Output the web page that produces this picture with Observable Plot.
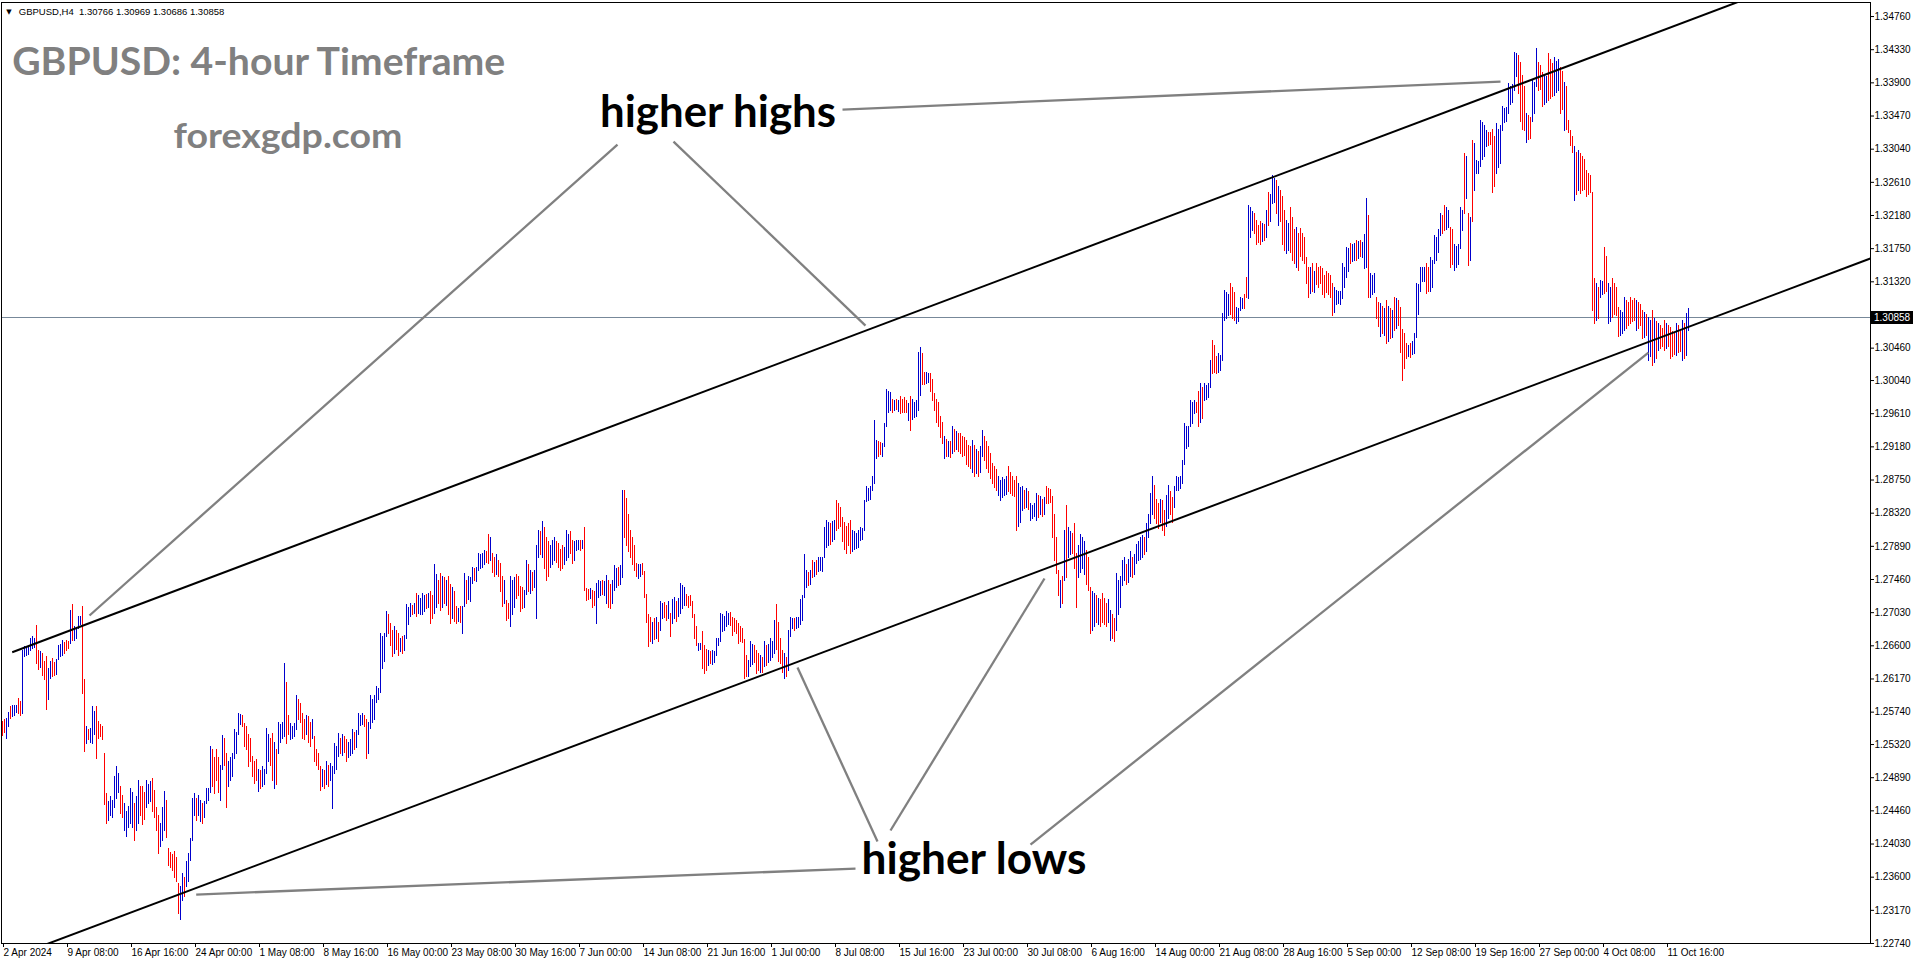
<!DOCTYPE html>
<html><head><meta charset="utf-8">
<script src="https://cdn.jsdelivr.net/npm/d3@7"></script>
<script src="https://cdn.jsdelivr.net/npm/@observablehq/plot@0.6"></script>
<style>
html,body{margin:0;padding:0;background:#fff;overflow:hidden;}
#chart svg{display:block;max-width:none !important;}
</style></head><body><div id="chart"></div>
<script>
// ---- GBPUSD H4 bars (bar index 0 = 2 Apr 2024 00:00) ----
const lows = [
1.2544,1.2548,1.2540,1.2555,1.2566,1.2568,1.2570,1.2573,1.2572,1.2570,
1.2572,1.2646,1.2647,1.2649,1.2654,1.2656,1.2658,1.2637,1.2629,1.2632,
1.2622,1.2616,1.2577,1.2590,1.2618,1.2620,1.2621,1.2623,1.2642,1.2646,
1.2648,1.2650,1.2654,1.2656,1.2663,1.2667,1.2667,1.2670,1.2683,1.2688,
1.2598,1.2523,1.2533,1.2538,1.2535,1.2533,1.2545,1.2514,1.2540,1.2542,
1.2538,1.2454,1.2430,1.2434,1.2440,1.2438,1.2451,1.2462,1.2470,1.2442,
1.2438,1.2420,1.2413,1.2425,1.2430,1.2425,1.2408,1.2421,1.2430,1.2440,
1.2428,1.2435,1.2451,1.2455,1.2458,1.2445,1.2438,1.2420,1.2391,1.2400,
1.2408,1.2420,1.2412,1.2375,1.2372,1.2369,1.2360,1.2354,1.2313,1.2305,
1.2330,1.2335,1.2348,1.2355,1.2382,1.2408,1.2440,1.2434,1.2440,1.2432,
1.2430,1.2438,1.2456,1.2460,1.2470,1.2478,1.2469,1.2485,1.2470,1.2460,
1.2499,1.2505,1.2451,1.2477,1.2485,1.2490,1.2514,1.2520,1.2545,1.2558,
1.2555,1.2530,1.2525,1.2503,1.2510,1.2490,1.2482,1.2486,1.2471,1.2475,
1.2478,1.2480,1.2495,1.2510,1.2505,1.2485,1.2475,1.2480,1.2520,1.2535,
1.2540,1.2542,1.2533,1.2545,1.2538,1.2540,1.2542,1.2552,1.2565,1.2560,
1.2540,1.2538,1.2545,1.2535,1.2529,1.2540,1.2510,1.2505,1.2499,1.2473,
1.2478,1.2475,1.2480,1.2477,1.2485,1.2449,1.2495,1.2500,1.2516,1.2520,
1.2518,1.2522,1.2510,1.2515,1.2518,1.2521,1.2525,1.2528,1.2545,1.2557,
1.2558,1.2556,1.2514,1.2520,1.2553,1.2560,1.2565,1.2587,1.2590,1.2600,
1.2630,1.2640,1.2672,1.2676,1.2660,1.2646,1.2650,1.2655,1.2648,1.2652,
1.2650,1.2654,1.2670,1.2688,1.2698,1.2700,1.2702,1.2698,1.2702,1.2700,
1.2700,1.2705,1.2708,1.2710,1.2689,1.2695,1.2702,1.2710,1.2715,1.2706,
1.2710,1.2715,1.2712,1.2700,1.2689,1.2695,1.2692,1.2689,1.2692,1.2690,
1.2676,1.2711,1.2715,1.2720,1.2718,1.2741,1.2745,1.2743,1.2758,1.2760,
1.2762,1.2765,1.2768,1.2767,1.2770,1.2755,1.2750,1.2752,1.2750,1.2730,
1.2711,1.2715,1.2693,1.2695,1.2685,1.2700,1.2710,1.2721,1.2725,1.2704,
1.2708,1.2710,1.2726,1.2730,1.2728,1.2732,1.2735,1.2696,1.2775,1.2778,
1.2775,1.2760,1.2745,1.2750,1.2762,1.2765,1.2770,1.2768,1.2762,1.2758,
1.2760,1.2765,1.2771,1.2775,1.2780,1.2767,1.2770,1.2784,1.2785,1.2784,
1.2786,1.2732,1.2719,1.2720,1.2722,1.2710,1.2712,1.2689,1.2723,1.2725,
1.2727,1.2725,1.2715,1.2710,1.2708,1.2715,1.2732,1.2735,1.2738,1.2740,
1.2749,1.2800,1.2790,1.2782,1.2775,1.2765,1.2758,1.2750,1.2747,1.2750,
1.2752,1.2723,1.2690,1.2659,1.2665,1.2663,1.2668,1.2670,1.2665,1.2680,
1.2695,1.2697,1.2693,1.2695,1.2672,1.2689,1.2695,1.2692,1.2698,1.2702,
1.2708,1.2712,1.2712,1.2710,1.2712,1.2697,1.2670,1.2661,1.2654,1.2655,
1.2630,1.2624,1.2628,1.2635,1.2637,1.2636,1.2638,1.2648,1.2660,1.2665,
1.2678,1.2680,1.2685,1.2688,1.2687,1.2674,1.2678,1.2676,1.2663,1.2666,
1.2664,1.2618,1.2620,1.2620,1.2633,1.2636,1.2638,1.2624,1.2628,1.2626,
1.2625,1.2633,1.2635,1.2638,1.2641,1.2645,1.2650,1.2655,1.2640,1.2637,
1.2625,1.2618,1.2620,1.2628,1.2672,1.2682,1.2680,1.2683,1.2684,1.2688,
1.2693,1.2723,1.2736,1.2738,1.2740,1.2749,1.2750,1.2752,1.2756,1.2758,
1.2757,1.2775,1.2788,1.2790,1.2792,1.2795,1.2798,1.2810,1.2812,1.2815,
1.2795,1.2785,1.2780,1.2790,1.2780,1.2782,1.2785,1.2786,1.2788,1.2797,
1.2798,1.2810,1.2847,1.2848,1.2850,1.2862,1.2870,1.2903,1.2905,1.2908,
1.2906,1.2918,1.2945,1.2963,1.2965,1.2963,1.2965,1.2966,1.2964,1.2961,
1.2962,1.2963,1.2962,1.2952,1.2939,1.2954,1.2956,1.2958,1.2965,1.2985,
1.2999,1.2999,1.3000,1.3001,1.2990,1.2978,1.2965,1.2950,1.2944,1.2930,
1.2922,1.2903,1.2905,1.2906,1.2904,1.2909,1.2912,1.2915,1.2912,1.2910,
1.2905,1.2907,1.2895,1.2892,1.2890,1.2885,1.2879,1.2883,1.2880,1.2885,
1.2905,1.2900,1.2890,1.2885,1.2877,1.2870,1.2865,1.2862,1.2855,1.2849,
1.2852,1.2855,1.2856,1.2860,1.2858,1.2855,1.2853,1.2810,1.2815,1.2820,
1.2836,1.2838,1.2840,1.2837,1.2823,1.2825,1.2828,1.2823,1.2826,1.2830,
1.2828,1.2830,1.2844,1.2845,1.2846,1.2800,1.2770,1.2754,1.2725,1.2710,
1.2715,1.2745,1.2749,1.2775,1.2778,1.2780,1.2760,1.2710,1.2749,1.2755,
1.2760,1.2752,1.2740,1.2732,1.2676,1.2680,1.2685,1.2690,1.2688,1.2685,
1.2690,1.2688,1.2685,1.2690,1.2667,1.2670,1.2665,1.2680,1.2700,1.2710,
1.2738,1.2745,1.2740,1.2742,1.2750,1.2748,1.2752,1.2767,1.2770,1.2772,
1.2775,1.2778,1.2782,1.2800,1.2818,1.2830,1.2825,1.2818,1.2812,1.2820,
1.2810,1.2803,1.2815,1.2825,1.2830,1.2820,1.2840,1.2861,1.2862,1.2864,
1.2870,1.2895,1.2916,1.2918,1.2944,1.2948,1.2961,1.2962,1.2944,1.2950,
1.2955,1.2978,1.2980,1.2982,1.2995,1.3013,1.3015,1.3013,1.3015,1.3017,
1.3030,1.3082,1.3085,1.3088,1.3090,1.3085,1.3082,1.3078,1.3080,1.3095,
1.3097,1.3098,1.3112,1.3110,1.3190,1.3199,1.3195,1.3181,1.3183,1.3181,
1.3184,1.3186,1.3190,1.3205,1.3210,1.3233,1.3235,1.3220,1.3205,1.3210,
1.3180,1.3173,1.3169,1.3172,1.3170,1.3160,1.3156,1.3150,1.3147,1.3165,
1.3160,1.3156,1.3130,1.3112,1.3117,1.3120,1.3118,1.3128,1.3125,1.3130,
1.3115,1.3112,1.3118,1.3115,1.3112,1.3088,1.3092,1.3102,1.3104,1.3103,
1.3110,1.3125,1.3138,1.3145,1.3156,1.3158,1.3160,1.3160,1.3162,1.3165,
1.3163,1.3149,1.3151,1.3112,1.3112,1.3115,1.3118,1.3085,1.3074,1.3061,
1.3065,1.3062,1.3052,1.3055,1.3058,1.3060,1.3069,1.3072,1.3075,1.3040,
1.3004,1.3020,1.3032,1.3035,1.3034,1.3038,1.3039,1.3060,1.3090,1.3120,
1.3132,1.3133,1.3117,1.3120,1.3119,1.3125,1.3156,1.3160,1.3170,1.3192,
1.3195,1.3199,1.3200,1.3202,1.3151,1.3155,1.3147,1.3150,1.3155,1.3175,
1.3198,1.3220,1.3240,1.3153,1.3160,1.3210,1.3250,1.3272,1.3273,1.3281,
1.3290,1.3295,1.3307,1.3309,1.3310,1.3248,1.3255,1.3272,1.3280,1.3285,
1.3328,1.3338,1.3340,1.3350,1.3362,1.3365,1.3380,1.3398,1.3376,1.3340,
1.3330,1.3328,1.3313,1.3316,1.3318,1.3340,1.3350,1.3385,1.3380,1.3382,
1.3359,1.3362,1.3365,1.3367,1.3370,1.3372,1.3374,1.3378,1.3380,1.3350,
1.3355,1.3328,1.3330,1.3326,1.3309,1.3300,1.3238,1.3245,1.3250,1.3246,
1.3250,1.3252,1.3242,1.3245,1.3248,1.3095,1.3078,1.3082,1.3085,1.3112,
1.3115,1.3117,1.3120,1.3078,1.3080,1.3086,1.3090,1.3088,1.3061,1.3063,
1.3065,1.3069,1.3072,1.3075,1.3078,1.3080,1.3082,1.3069,1.3072,1.3075,
1.3058,1.3060,1.3062,1.3030,1.3035,1.3024,1.3028,1.3032,1.3043,1.3045,
1.3048,1.3043,1.3046,1.3048,1.3032,1.3035,1.3038,1.3037,1.3040,1.3042,
1.3030,1.3033,1.3037,1.30686
];
const highs = [
1.2562,1.2565,1.2566,1.2574,1.2581,1.2583,1.2582,1.2583,1.2592,1.2588,
1.2654,1.2659,1.2658,1.2660,1.2670,1.2672,1.2670,1.2687,1.2654,1.2652,
1.2650,1.2640,1.2646,1.2630,1.2640,1.2644,1.2638,1.2642,1.2660,1.2662,
1.2667,1.2664,1.2667,1.2665,1.2706,1.2713,1.2685,1.2684,1.2698,1.2698,
1.2711,1.2616,1.2555,1.2552,1.2553,1.2581,1.2575,1.2581,1.2562,1.2558,
1.2555,1.2521,1.2469,1.2458,1.2464,1.2460,1.2490,1.2503,1.2495,1.2477,
1.2466,1.2456,1.2445,1.2452,1.2475,1.2470,1.2456,1.2465,1.2486,1.2478,
1.2477,1.2470,1.2486,1.2480,1.2484,1.2488,1.2472,1.2451,1.2440,1.2430,
1.2450,1.2471,1.2460,1.2397,1.2392,1.2390,1.2393,1.2385,1.2352,1.2348,
1.2365,1.2360,1.2380,1.2391,1.2410,1.2462,1.2469,1.2462,1.2466,1.2460,
1.2455,1.2458,1.2475,1.2475,1.2529,1.2526,1.2515,1.2525,1.2515,1.2505,
1.2544,1.2540,1.2521,1.2510,1.2515,1.2521,1.2551,1.2548,1.2572,1.2571,
1.2570,1.2559,1.2556,1.2545,1.2540,1.2516,1.2510,1.2512,1.2500,1.2498,
1.2503,1.2500,1.2553,1.2545,1.2540,1.2546,1.2535,1.2525,1.2561,1.2558,
1.2561,1.2637,1.2613,1.2570,1.2559,1.2556,1.2559,1.2596,1.2590,1.2585,
1.2572,1.2565,1.2570,1.2568,1.2560,1.2565,1.2542,1.2525,1.2520,1.2503,
1.2500,1.2498,1.2510,1.2505,1.2508,1.2503,1.2533,1.2530,1.2546,1.2540,
1.2545,1.2542,1.2538,1.2535,1.2538,1.2551,1.2548,1.2550,1.2572,1.2570,
1.2572,1.2570,1.2564,1.2560,1.2596,1.2590,1.2595,1.2607,1.2605,1.2676,
1.2672,1.2676,1.2704,1.2700,1.2689,1.2680,1.2685,1.2680,1.2676,1.2670,
1.2672,1.2674,1.2713,1.2710,1.2715,1.2712,1.2715,1.2728,1.2725,1.2722,
1.2728,1.2725,1.2726,1.2728,1.2730,1.2725,1.2765,1.2752,1.2745,1.2754,
1.2750,1.2748,1.2745,1.2750,1.2740,1.2735,1.2730,1.2711,1.2708,1.2711,
1.2711,1.2754,1.2745,1.2750,1.2748,1.2762,1.2760,1.2762,1.2780,1.2778,
1.2780,1.2784,1.2782,1.2805,1.2800,1.2780,1.2775,1.2778,1.2770,1.2767,
1.2750,1.2745,1.2719,1.2715,1.2750,1.2745,1.2748,1.2752,1.2750,1.2737,
1.2735,1.2732,1.2771,1.2765,1.2758,1.2755,1.2758,1.2790,1.2810,1.2808,
1.2821,1.2814,1.2800,1.2795,1.2790,1.2797,1.2800,1.2795,1.2793,1.2785,
1.2790,1.2788,1.2810,1.2805,1.2808,1.2797,1.2795,1.2797,1.2797,1.2796,
1.2797,1.2814,1.2734,1.2733,1.2734,1.2732,1.2730,1.2741,1.2745,1.2743,
1.2745,1.2744,1.2751,1.2745,1.2740,1.2745,1.2764,1.2760,1.2762,1.2764,
1.2862,1.2862,1.2851,1.2830,1.2810,1.2800,1.2790,1.2767,1.2765,1.2766,
1.2767,1.2756,1.2726,1.2700,1.2697,1.2690,1.2695,1.2697,1.2690,1.2717,
1.2715,1.2716,1.2712,1.2717,1.2702,1.2720,1.2723,1.2718,1.2722,1.2741,
1.2738,1.2735,1.2726,1.2724,1.2725,1.2717,1.2700,1.2685,1.2663,1.2663,
1.2678,1.2660,1.2655,1.2654,1.2652,1.2654,1.2652,1.2669,1.2669,1.2702,
1.2700,1.2698,1.2704,1.2702,1.2703,1.2697,1.2695,1.2693,1.2689,1.2685,
1.2683,1.2668,1.2648,1.2641,1.2665,1.2662,1.2660,1.2654,1.2650,1.2648,
1.2645,1.2665,1.2660,1.2662,1.2669,1.2666,1.2693,1.2713,1.2690,1.2670,
1.2654,1.2650,1.2645,1.2680,1.2697,1.2696,1.2695,1.2697,1.2697,1.2720,
1.2725,1.2779,1.2758,1.2755,1.2758,1.2771,1.2768,1.2770,1.2775,1.2774,
1.2775,1.2814,1.2823,1.2820,1.2818,1.2821,1.2823,1.2849,1.2845,1.2840,
1.2827,1.2820,1.2815,1.2818,1.2823,1.2810,1.2808,1.2806,1.2810,1.2814,
1.2812,1.2849,1.2866,1.2864,1.2866,1.2879,1.2952,1.2926,1.2925,1.2924,
1.2922,1.2948,1.2993,1.2990,1.2988,1.2980,1.2978,1.2980,1.2978,1.2983,
1.2980,1.2982,1.2978,1.2974,1.2983,1.2980,1.2976,1.2978,1.3040,1.3047,
1.3039,1.3015,1.3014,1.3013,1.3013,1.3005,1.2987,1.2980,1.2975,1.2957,
1.2950,1.2931,1.2928,1.2925,1.2925,1.2944,1.2940,1.2938,1.2935,1.2935,
1.2932,1.2930,1.2926,1.2920,1.2918,1.2926,1.2920,1.2915,1.2912,1.2918,
1.2939,1.2931,1.2925,1.2918,1.2910,1.2896,1.2892,1.2888,1.2879,1.2875,
1.2878,1.2876,1.2879,1.2892,1.2885,1.2880,1.2875,1.2879,1.2870,1.2865,
1.2866,1.2862,1.2864,1.2860,1.2844,1.2842,1.2844,1.2857,1.2855,1.2854,
1.2850,1.2852,1.2866,1.2864,1.2863,1.2853,1.2830,1.2800,1.2758,1.2745,
1.2750,1.2810,1.2842,1.2814,1.2808,1.2806,1.2818,1.2780,1.2790,1.2805,
1.2800,1.2795,1.2784,1.2775,1.2736,1.2730,1.2728,1.2725,1.2722,1.2720,
1.2728,1.2722,1.2715,1.2720,1.2706,1.2700,1.2695,1.2754,1.2745,1.2750,
1.2770,1.2775,1.2765,1.2772,1.2782,1.2775,1.2778,1.2792,1.2795,1.2800,
1.2803,1.2800,1.2818,1.2830,1.2858,1.2879,1.2868,1.2850,1.2845,1.2850,
1.2848,1.2835,1.2855,1.2868,1.2860,1.2852,1.2866,1.2879,1.2878,1.2879,
1.2900,1.2948,1.2944,1.2945,1.2978,1.2975,1.2978,1.2976,1.2990,1.3000,
1.2995,1.3000,1.2998,1.3000,1.3030,1.3056,1.3050,1.3035,1.3039,1.3036,
1.3091,1.3121,1.3118,1.3115,1.3130,1.3125,1.3118,1.3099,1.3097,1.3112,
1.3110,1.3115,1.3138,1.3231,1.3228,1.3223,1.3220,1.3212,1.3205,1.3210,
1.3208,1.3206,1.3225,1.3248,1.3245,1.3270,1.3266,1.3264,1.3255,1.3250,
1.3242,1.3225,1.3212,1.3208,1.3229,1.3215,1.3200,1.3203,1.3195,1.3201,
1.3195,1.3190,1.3164,1.3150,1.3150,1.3156,1.3145,1.3156,1.3150,1.3152,
1.3149,1.3140,1.3145,1.3143,1.3140,1.3130,1.3125,1.3121,1.3120,1.3119,
1.3156,1.3150,1.3177,1.3175,1.3182,1.3180,1.3182,1.3186,1.3184,1.3185,
1.3183,1.3194,1.3240,1.3218,1.3143,1.3140,1.3143,1.3112,1.3105,1.3104,
1.3100,1.3098,1.3108,1.3100,1.3098,1.3095,1.3112,1.3110,1.3108,1.3099,
1.3070,1.3065,1.3052,1.3050,1.3052,1.3055,1.3065,1.3130,1.3128,1.3151,
1.3150,1.3151,1.3156,1.3150,1.3164,1.3160,1.3192,1.3190,1.3200,1.3220,
1.3218,1.3231,1.3228,1.3225,1.3203,1.3200,1.3181,1.3178,1.3180,1.3229,
1.3225,1.3298,1.3295,1.3220,1.3215,1.3315,1.3312,1.3289,1.3288,1.3341,
1.3338,1.3335,1.3328,1.3326,1.3325,1.3330,1.3320,1.3337,1.3330,1.3335,
1.3359,1.3357,1.3358,1.3389,1.3385,1.3388,1.3430,1.3428,1.3426,1.3417,
1.3400,1.3385,1.3350,1.3348,1.3345,1.3393,1.3390,1.3434,1.3417,1.3412,
1.3404,1.3400,1.3398,1.3428,1.3420,1.3415,1.3423,1.3418,1.3420,1.3410,
1.3405,1.3391,1.3385,1.3341,1.3328,1.3320,1.3307,1.3300,1.3302,1.3298,
1.3295,1.3290,1.3276,1.3273,1.3270,1.3248,1.3136,1.3130,1.3125,1.3134,
1.3132,1.3177,1.3165,1.3130,1.3125,1.3136,1.3130,1.3125,1.3099,1.3095,
1.3092,1.3112,1.3108,1.3105,1.3112,1.3108,1.3110,1.3108,1.3105,1.3102,
1.3095,1.3092,1.3090,1.3086,1.3082,1.3095,1.3085,1.3080,1.3078,1.3075,
1.3072,1.3082,1.3078,1.3075,1.3073,1.3068,1.3065,1.3078,1.3075,1.3070,
1.3082,1.3078,1.3091,1.30969
];
// u = close above open (blue), d = close below open (red), 10 bars per chunk
const dirs = [
"dduuduuudd","uuuuuuuddu","ddduudduuu","uddduduuuu","dduduuuddd","ddduuuuuud","duuuuuduud","dduuuddddu","uudddddddu","uduuuuuduu",
"duuuuddddu","udduuuuuuu","ddddddddud","uuuudduduu","uudduuuudd","dduddudddd","ududuuuuud","udduuuduuu","udduuuuuuu","uuuddduddu",
"duuuududuu","uududduudd","ududduddud","uuduuuduuu","uudduddudd","dudduuuddd","duududuuud","uddduuuddd","duuudduuud","udddudduuu",
"duudduuudu","uddddddduu","dddddududu","udduduuduu","uudddddduu","ddduduuuuu","uuuudddddd","ddduuudddu","duduuuuddd","duduuuduuu",
"uuudududuu","uuuuduuddd","ddddduuuuu","uuuuuuuudd","uuuuududud","ddduduuuuu","dduudddddd","dududududd","dddddududu","uddddddduu",
"uuuddddduu","ududuuuudu","dudddddddu","duduuddduu","uuddduudud","ddduudduuu","uuduuduuuu","uduuuudddu","dduudduuuu","uuuuuuuddu",
"duuuuddduu","uuuuddduuu","udduuudddd","ududuuudud","dduudddudd","ddddududdd","dddddduuuu","uuuuduudud","uuuduuuddu","dududududd",
"ddduduuuuu","uudduuuuuu","dduudduuuu","udududuuuu","uuudddduuu","uuuuuuuudd","ddudduuudd","duuddduuud","duddddudud","dddddddudu",
"udduuddddu","uudddddudd","duduududud","dduddddudd","uduu"
].join("");
const lastBar = {open: 1.30766, high: 1.30969, low: 1.30686, close: 1.30858};

// ---- axes (the 1.30890 label sits under the current-price box and is not shown) ----
const timeTicks = [0,32,64,96,128,160,192,224,256,288,320,352,384,416,448,480,512,544,576,608,640,672,704,736,768,800,832];
const timeLabels = ["2 Apr 2024","9 Apr 08:00","16 Apr 16:00","24 Apr 00:00","1 May 08:00","8 May 16:00","16 May 00:00","23 May 08:00","30 May 16:00","7 Jun 00:00","14 Jun 08:00","21 Jun 16:00","1 Jul 00:00","8 Jul 08:00","15 Jul 16:00","23 Jul 00:00","30 Jul 08:00","6 Aug 16:00","14 Aug 00:00","21 Aug 08:00","28 Aug 16:00","5 Sep 00:00","12 Sep 08:00","19 Sep 16:00","27 Sep 00:00","4 Oct 08:00","11 Oct 16:00"];
const priceTicks = [1.3476,1.3433,1.3390,1.3347,1.3304,1.3261,1.3218,1.3175,1.3132,1.3046,1.3004,1.2961,1.2918,1.2875,1.2832,1.2789,1.2746,1.2703,1.2660,1.2617,1.2574,1.2532,1.2489,1.2446,1.2403,1.2360,1.2317,1.2274];

// ---- drawn objects (bar index, price) ----
const channelLines = [
  {x1: 4.85, y1: 1.26517, x2: 900, y2: 1.35264},
  {x1: 0, y1: 1.22516, x2: 934, y2: 1.31623}
];
const pointerLines = [
  {x1: 420, y1: 1.33554, x2: 749, y2: 1.33917},
  {x1: 307.5, y1: 1.33100, x2: 43.5, y2: 1.26993},
  {x1: 335.5, y1: 1.33139, x2: 431.5, y2: 1.30753},
  {x1: 96.85, y1: 1.23375, x2: 426.5, y2: 1.23712},
  {x1: 397.5, y1: 1.26319, x2: 437.5, y2: 1.24062},
  {x1: 444, y1: 1.24205, x2: 521, y2: 1.27473},
  {x1: 514, y1: 1.24023, x2: 823, y2: 1.30403}
];
const titleNote = [{text: "GBPUSD: 4-hour Timeframe", i: 4.85, price: 1.34008}];
const siteNote = [{text: "forexgdp.com", i: 85.5, price: 1.33061}];
const swingNotes = [
  {text: "higher highs", i: 298.75, price: 1.33334},
  {text: "higher lows", i: 429.5, price: 1.23635}
];
const f5 = d3.format(".5f");
const headerNote = [{text: `GBPUSD,H4\u00a0 ${f5(lastBar.open)} ${f5(lastBar.high)} ${f5(lastBar.low)} ${f5(lastBar.close)}`, i: 8.15, price: 1.34786}];
const markerNote = [{text: "\u25BC", i: 3.25, price: 1.34822}];

const bars = lows.map((l, i) => ({i, low: l, high: highs[i], up: dirs[i] === "u"}));
const UP = "#0000cd", DOWN = "#ff0000";

// OHLC bars: one-pixel vertical strokes placed through Plot's x and y scales, snapped to whole pixels
function barMark(index, scales) {
  const g = d3.create("svg:g").attr("shape-rendering", "crispEdges");
  for (const b of bars) {
    const x = Math.round(scales.x(b.i));
    const yTop = Math.round(scales.y(b.high));
    const yBot = Math.round(scales.y(b.low));
    g.append("rect").attr("x", x).attr("y", yTop).attr("width", 1)
      .attr("height", Math.max(1, yBot - yTop + 1)).attr("fill", b.up ? UP : DOWN);
  }
  return g.node();
}

const svg = Plot.plot({
  width: 1916, height: 964,
  marginLeft: 1, marginRight: 46, marginTop: 2, marginBottom: 21,
  style: {fontFamily: "'Liberation Sans', Arial, sans-serif", fontSize: "10px", background: "#fff", color: "#000"},
  x: {type: "linear", domain: [-0.5, 934], axis: null},
  y: {domain: [1.2274, 1.34942], axis: null},
  marks: [
    Plot.ruleY([lastBar.close], {stroke: "#778899", strokeWidth: 1, shapeRendering: "crispEdges"}),
    barMark,
    Plot.link(channelLines, {x1: "x1", y1: "y1", x2: "x2", y2: "y2", stroke: "#000", strokeWidth: 2, clip: true}),
    Plot.link(pointerLines, {x1: "x1", y1: "y1", x2: "x2", y2: "y2", stroke: "#808080", strokeWidth: 2.3}),
    Plot.text(titleNote, {x: "i", y: "price", text: "text", textAnchor: "start", lineAnchor: "bottom", fontFamily: "Lato", fontWeight: "bold", fontSize: 38, fill: "#808080"}),
    Plot.text(siteNote, {x: "i", y: "price", text: "text", textAnchor: "start", lineAnchor: "bottom", fontFamily: "Lato", fontWeight: "bold", fontSize: 35, fill: "#808080"}),
    Plot.text(swingNotes, {x: "i", y: "price", text: "text", textAnchor: "start", lineAnchor: "bottom", fontFamily: "Lato", fontWeight: "bold", fontSize: 43, fill: "#000"}),
    Plot.text(headerNote, {x: "i", y: "price", text: "text", textAnchor: "start", lineAnchor: "bottom", fontSize: 9.5, fill: "#000"}),
    Plot.text(markerNote, {x: "i", y: "price", text: "text", textAnchor: "middle", lineAnchor: "middle", fontSize: 7, fontFamily: "DejaVu Sans", fill: "#000"}),
    Plot.frame({stroke: "#000", shapeRendering: "crispEdges"}),
    Plot.axisX({ticks: timeTicks, tickFormat: d => timeLabels[timeTicks.indexOf(d)], tickSize: 4, tickPadding: 1.5, textAnchor: "start", dx: 1}),
    Plot.axisY({anchor: "right", ticks: priceTicks, tickFormat: f5, tickSize: 3, tickPadding: 1})
  ]
});
document.getElementById("chart").append(svg);

// current-price label on the right axis, drawn last so it sits on top
const yPos = svg.scale("y").apply(lastBar.close);
const xRight = 1916 - 46 + 1;
const box = d3.select(svg).append("g").attr("text-anchor", "start");
box.append("rect").attr("x", xRight).attr("y", Math.round(yPos) - 6).attr("width", 42).attr("height", 13).attr("fill", "#000");
box.append("text").attr("x", xRight + 3).attr("y", Math.round(yPos) + 4).attr("text-anchor", "start").attr("fill", "#fff")
  .attr("font-size", 10).attr("font-family", "'Liberation Sans', Arial, sans-serif").text(f5(lastBar.close));

const fitWidths = {"GBPUSD: 4-hour Timeframe": 493, "forexgdp.com": 229, "higher highs": 236, "higher lows": 225};
d3.select(svg).selectAll("text").each(function() {
  const w = fitWidths[this.textContent];
  if (w) { this.setAttribute("textLength", w); this.setAttribute("lengthAdjust", "spacingAndGlyphs"); }
});
</script>
</body></html>
